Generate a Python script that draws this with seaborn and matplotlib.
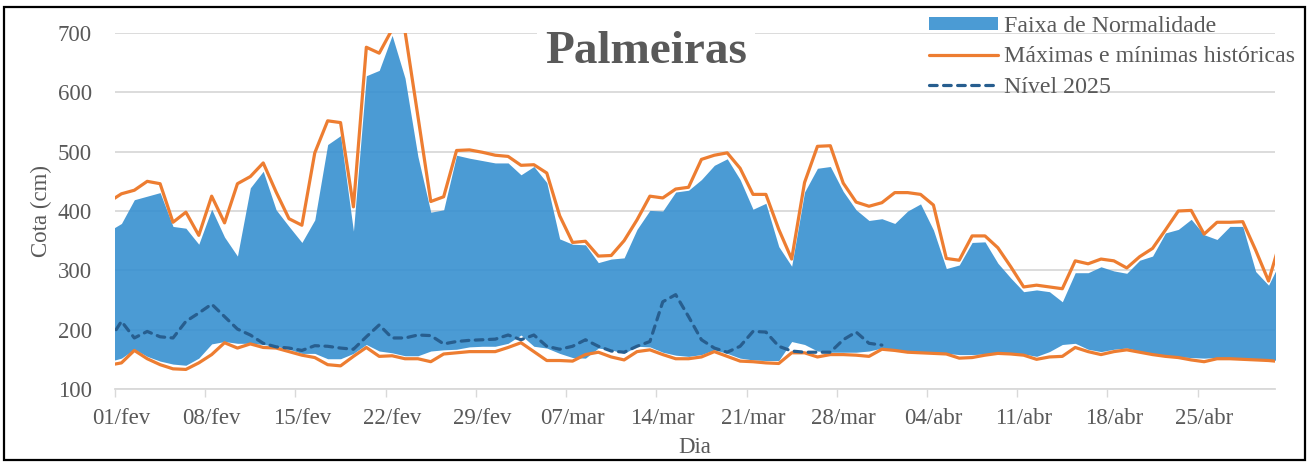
import numpy as np
import pandas as pd
import matplotlib
matplotlib.use("Agg")
import matplotlib.pyplot as plt
import matplotlib.dates as mdates
from matplotlib.patches import Rectangle, Patch
from matplotlib.lines import Line2D
import seaborn as sns

# dias (31/jan a 01/mai, as pontas ficam cortadas pelos limites do eixo)
datas = pd.date_range("2024-01-31", "2024-05-01", freq="D")

# máximas históricas
maxima = [415,
          429, 435, 450, 446, 381, 398, 359, 425, 380, 446, 458, 481, 432, 387, 376, 498, 552, 549, 407, 676,
          666, 706, 703, 560, 416, 424, 502, 503, 499, 494, 492, 477, 478, 464, 392, 347, 349, 324, 325, 350,
          385, 425, 422, 437, 440, 487, 494, 498, 472, 428, 428, 369, 319, 448, 509, 510, 447, 415, 408, 414,
          431, 431, 428, 410, 320, 317, 358, 358, 338, 306, 272, 275, 272, 269, 316, 311, 319, 316, 304, 323,
          337, 368, 400, 401, 361, 381, 381, 382, 334, 282, 356]

# limite superior da faixa de normalidade
faixa_sup = [366,
             379, 419, 425, 431, 374, 371, 344, 403, 356, 324, 439, 467, 402, 374, 347, 385, 512, 527, 366, 628,
             637, 696, 624, 492, 398, 402, 494, 489, 485, 481, 481, 461, 475, 448, 353, 344, 343, 313, 319, 321,
             369, 401, 400, 432, 435, 453, 477, 488, 453, 403, 413, 340, 307, 432, 472, 475, 433, 402, 384, 387,
             379, 400, 412, 368, 303, 309, 347, 348, 312, 287, 264, 267, 264, 247, 296, 296, 306, 299, 295, 317,
             324, 363, 369, 386, 360, 352, 374, 374, 298, 275, 319]

# limite inferior da faixa de normalidade
faixa_inf = [146,
             152, 167, 155, 147, 142, 140, 152, 176, 180, 177, 177, 175, 172, 167, 160, 160, 151, 151, 160, 175,
             164, 161, 156, 156, 164, 166, 167, 171, 172, 172, 177, 191, 172, 169, 160, 153, 152, 169, 166, 160,
             172, 171, 162, 157, 155, 158, 166, 160, 152, 149, 148, 148, 180, 175, 164, 162, 162, 162, 164, 169,
             167, 164, 163, 161, 160, 158, 158, 159, 162, 161, 159, 155, 163, 175, 177, 167, 163, 167, 169, 164,
             160, 157, 154, 153, 152, 153, 152, 151, 150, 149, 148]

# mínimas históricas
minima = [140,
          144, 165, 151, 141, 134, 133, 144, 158, 178, 169, 176, 170, 169, 163, 157, 153, 141, 139, 155, 170,
          155, 156, 151, 151, 146, 159, 161, 163, 163, 163, 170, 178, 163, 148, 148, 147, 158, 162, 154, 149,
          163, 166, 158, 151, 151, 154, 163, 155, 147, 146, 144, 143, 161, 161, 154, 158, 158, 157, 155, 167,
          165, 162, 161, 160, 159, 152, 153, 157, 160, 159, 157, 150, 154, 155, 170, 163, 158, 163, 166, 162,
          158, 155, 153, 149, 146, 151, 151, 150, 149, 148, 146]

# nível 2025 (até 31/mar)
nivel_2025 = [180,
              214, 186, 197, 188, 186, 214, 228, 243, 222, 201, 191, 177, 171, 169, 165, 173, 172, 169, 167, 188,
              208, 186, 186, 191, 190, 176, 180, 182, 183, 184, 191, 183, 191, 172, 167, 172, 183, 172, 164, 162,
              172, 180, 247, 259, 222, 183, 169, 162, 172, 197, 196, 172, 164, 162, 162, 162, 183, 196, 177, 174]
nivel_2025 = nivel_2025 + [np.nan] * (len(datas) - len(nivel_2025))

rotulos_x = ["01/fev", "08/fev", "15/fev", "22/fev", "29/fev", "07/mar", "14/mar",
             "21/mar", "28/mar", "04/abr", "11/abr", "18/abr", "25/abr"]

df = pd.DataFrame({"data": datas, "maxima": maxima, "faixa_sup": faixa_sup,
                   "faixa_inf": faixa_inf, "minima": minima, "nivel": nivel_2025})

azul = "#3790D0"
laranja = "#ED7D31"
azul_esc = "#275E8F"
cinza = "#595959"

sns.set_theme(style="white")
plt.rcParams["font.family"] = ["Liberation Serif", "DejaVu Serif"]

fig = plt.figure(figsize=(13.11, 4.66), dpi=100)
ax = fig.add_axes([0.08772, 0.16524, 0.88482, 0.76395])

ax.fill_between(df["data"], df["faixa_inf"], df["faixa_sup"], color=azul, alpha=0.9, lw=0, zorder=1)
sns.lineplot(data=df, x="data", y="maxima", color=laranja, lw=2.3, ax=ax, legend=False, zorder=3)
sns.lineplot(data=df, x="data", y="minima", color=laranja, lw=2.3, ax=ax, legend=False, zorder=3)
sns.lineplot(data=df, x="data", y="nivel", color=azul_esc, lw=2.3, ax=ax, legend=False, zorder=4,
             linestyle=(0, (2.4, 2.0)), dash_capstyle="round")

# eixo x: marcas nos limites dos dias, rótulos no centro
inicio = pd.Timestamp("2024-02-01")
marcas = [mdates.date2num(inicio + pd.Timedelta(days=7 * k) - pd.Timedelta(hours=12)) for k in range(13)]
centros = [mdates.date2num(inicio + pd.Timedelta(days=7 * k)) for k in range(13)]
ax.set_xlim(mdates.date2num(pd.Timestamp("2024-01-31 12:00")), mdates.date2num(pd.Timestamp("2024-04-30 12:00")))
ax.set_xticks(marcas)
ax.set_xticklabels([])
ax.set_xticks(centros, minor=True)
ax.set_xticklabels(rotulos_x, minor=True)
ax.tick_params(axis="x", which="major", length=6, width=1, color="#D9D9D9", direction="out", bottom=True)
ax.tick_params(axis="x", which="minor", length=0, pad=14, labelsize=16.5, labelcolor=cinza, bottom=True)

ax.set_ylim(100, 700)
ax.set_yticks(range(100, 701, 100))
ax.tick_params(axis="y", length=0, pad=16.5, labelsize=16.5, labelcolor=cinza)
ax.yaxis.grid(True, color="#D9D9D9", lw=1.3)
ax.set_axisbelow(True)

for lado in ["top", "right", "left"]:
    ax.spines[lado].set_visible(False)
ax.spines["bottom"].set_color("#D9D9D9")
ax.spines["bottom"].set_linewidth(1.3)

ax.set_xlabel("Dia", fontsize=16.5, color=cinza)
ax.xaxis.set_label_coords(0.5, -0.136)
ax.set_ylabel("Cota (cm)", fontsize=16.5, color=cinza)
ax.yaxis.set_label_coords(-0.054, 0.5)

fig.text(646 / 1311, 1 - 52 / 466, "Palmeiras", ha="center", va="center", fontsize=34,
         weight="bold", color=cinza, bbox=dict(facecolor="white", edgecolor="none", pad=6), zorder=5)

handles = [Patch(facecolor=azul, alpha=0.9, edgecolor="none"),
           Line2D([], [], color=laranja, lw=2.3),
           Line2D([], [], color=azul_esc, lw=2.3, linestyle=(0, (2.4, 2.0)), dash_capstyle="round")]
labels = ["Faixa de Normalidade", "Máximas e mínimas históricas", "Nível 2025"]
fig.legend(handles, labels, loc="upper left", bbox_to_anchor=(929 / 1311, 1 - 16 / 466), frameon=False,
           borderpad=0, borderaxespad=0, handlelength=2.88, handletextpad=0.25, labelspacing=0.39,
           handleheight=0.45, fontsize=17.2, labelcolor=cinza)

fig.add_artist(Rectangle((4 / 1311, 1 - 460 / 466), 1301 / 1311, 453 / 466, transform=fig.transFigure,
                         fill=False, edgecolor="black", lw=1.6))

fig.savefig("out.png", dpi=100)
